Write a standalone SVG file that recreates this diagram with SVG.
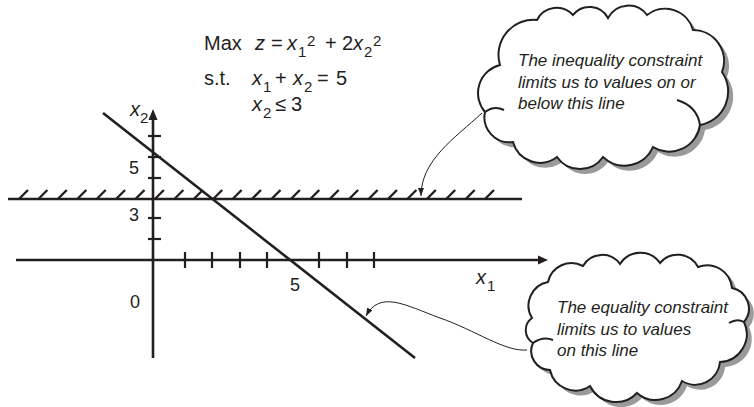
<svg xmlns="http://www.w3.org/2000/svg" width="754" height="407" viewBox="0 0 754 407">
<style>
  .t{font-family:"Liberation Sans",Arial,sans-serif;fill:#231f20}
  .eq{font-size:20px}
  .sm{font-size:15px}
  .it{font-style:italic}
  .num{font-size:18px;text-anchor:middle}
  .ax{stroke:#231f20;stroke-width:2.6;fill:none}
  .tk{stroke:#231f20;stroke-width:2.2;fill:none}
  .hat{stroke:#231f20;stroke-width:2.4;fill:none}
  .cloud{fill:#fff;stroke:#231f20;stroke-width:2}
  .shadow{fill:#9a9a9a;stroke:none}
  .hook{fill:none;stroke:#231f20;stroke-width:2}
  .conn{fill:none;stroke:#231f20;stroke-width:1}
  .ct{font-size:17px;font-style:italic}
</style>
<defs>
  <marker id="ah" markerWidth="8" markerHeight="6" refX="8" refY="3" orient="auto" markerUnits="userSpaceOnUse">
    <path d="M0,0 L8,3 L0,6 z" fill="#231f20"/>
  </marker>
  <path id="c1" d="M500,65 A35,35 0 0 1 537,20 A22,22 0 0 1 573,15 A21,21 0 0 1 608,18 A23,23 0 0 1 647,15 A29,29 0 0 1 693,30 A31,31 0 0 1 722,72 A34,34 0 0 1 700,125 A31,31 0 0 1 653,147 A31,31 0 0 1 603,157 A28,28 0 0 1 557,157 A28,28 0 0 1 513,142 A25,25 0 0 1 485,112 A29,29 0 0 1 500,65 Z"/>
  <path id="c2" d="M532,318 A24,24 0 0 1 548,282 A24,24 0 0 1 583,266 A22,22 0 0 1 620,264 A24,24 0 0 1 660,263 A23,23 0 0 1 698,267 A25,25 0 0 1 732,288 A21,21 0 0 1 744,322 A28,28 0 0 1 720,362 A25,25 0 0 1 682,381 A28,28 0 0 1 637,393 A29,29 0 0 1 590,386 A26,26 0 0 1 550,370 A19,19 0 0 1 533,343 A15,15 0 0 1 532,318 Z"/>
</defs>

<g id="equations">
  <text class="t eq" y="50"><tspan x="204">Max</tspan><tspan x="255" class="it">z</tspan><tspan x="271">=</tspan><tspan x="287" class="it">x</tspan></text>
  <text class="t sm" x="298" y="57">1</text>
  <text class="t sm" x="307" y="46">2</text>
  <text class="t eq" y="50"><tspan x="325">+</tspan><tspan x="342">2</tspan><tspan x="353" class="it">x</tspan></text>
  <text class="t sm" x="364" y="57">2</text>
  <text class="t sm" x="373" y="46">2</text>

  <text class="t eq" y="85"><tspan x="204">s.t.</tspan><tspan x="252" class="it">x</tspan></text>
  <text class="t sm" x="263" y="92">1</text>
  <text class="t eq" y="85"><tspan x="275">+</tspan><tspan x="293" class="it">x</tspan></text>
  <text class="t sm" x="304" y="92">2</text>
  <text class="t eq" y="85"><tspan x="317">=</tspan><tspan x="336">5</tspan></text>

  <text class="t eq it" x="252" y="111">x</text>
  <text class="t sm" x="263" y="118">2</text>
  <text class="t eq" y="111"><tspan x="275">≤</tspan><tspan x="291">3</tspan></text>
</g>

<g id="axes">
  <line class="ax" x1="16" y1="260" x2="540" y2="260"/>
  <path d="M548,260 L538,255.5 L538,264.5 z" fill="#231f20"/>
  <line class="ax" x1="153" y1="358" x2="153" y2="118"/>
  <path d="M153,109 L148.5,120 L157.5,120 z" fill="#231f20"/>
  <g id="x1-ticks">
    <line class="tk" x1="185" y1="252" x2="185" y2="268"/>
    <line class="tk" x1="212" y1="252" x2="212" y2="268"/>
    <line class="tk" x1="240" y1="252" x2="240" y2="268"/>
    <line class="tk" x1="267" y1="252" x2="267" y2="268"/>
    <line class="tk" x1="319" y1="252" x2="319" y2="268"/>
    <line class="tk" x1="347" y1="252" x2="347" y2="268"/>
    <line class="tk" x1="374" y1="252" x2="374" y2="268"/>
  </g>
  <g id="x2-ticks">
    <line class="tk" x1="148" y1="136" x2="161" y2="136"/>
    <line class="tk" x1="148" y1="157" x2="161" y2="157"/>
    <line class="tk" x1="148" y1="178" x2="161" y2="178"/>
    <line class="tk" x1="148" y1="218" x2="161" y2="218"/>
    <line class="tk" x1="148" y1="239" x2="161" y2="239"/>
  </g>
  <text class="t it" style="font-size:20px" x="130" y="116">x</text>
  <text class="t sm" x="140" y="123">2</text>
  <text class="t it" style="font-size:20px" x="476" y="284">x</text>
  <text class="t sm" x="487" y="291">1</text>
  <text class="t num" x="134" y="174">5</text>
  <text class="t num" x="134" y="221">3</text>
  <text class="t num" x="135" y="308">0</text>
  <text class="t num" x="295" y="291">5</text>
</g>

<g id="inequality-line">
  <line class="ax" x1="8" y1="199" x2="522" y2="199"/>
  <path class="hat" d="M19,199 l9,-9 M38.4,199 l9,-9 M57.8,199 l9,-9 M77.3,199 l9,-9 M96.7,199 l9,-9 M116.1,199 l9,-9 M135.5,199 l9,-9 M154.9,199 l9,-9 M174.4,199 l9,-9 M193.8,199 l9,-9 M213.2,199 l9,-9 M232.6,199 l9,-9 M252,199 l9,-9 M271.5,199 l9,-9 M290.9,199 l9,-9 M310.3,199 l9,-9 M329.7,199 l9,-9 M349.1,199 l9,-9 M368.6,199 l9,-9 M388,199 l9,-9 M407.4,199 l9,-9 M426.8,199 l9,-9 M446.2,199 l9,-9 M465.7,199 l9,-9 M485,199 l9,-9"/>
</g>

<g id="equality-line">
  <line class="ax" x1="103" y1="113" x2="415" y2="358"/>
</g>

<g id="cloud-inequality">
  <use href="#c1" class="shadow" transform="translate(5,5)"/>
  <use href="#c1" class="cloud"/>
  <path class="hook" d="M485,112 Q494,105 504,110"/>
  <path class="hook" d="M700,125 Q697,106 677,100"/>
  <text class="t ct" x="518" y="66">The inequality constraint</text>
  <text class="t ct" x="518" y="88">limits us to values on or</text>
  <text class="t ct" x="518" y="109">below this line</text>
</g>

<g id="cloud-equality">
  <use href="#c2" class="shadow" transform="translate(5,5)"/>
  <use href="#c2" class="cloud"/>
  <path class="hook" d="M533,343 Q543,336 553,340"/>
  <path class="hook" d="M744,322 Q737,318 729,323"/>
  <text class="t ct" x="557" y="313">The equality constraint</text>
  <text class="t ct" x="557" y="335">limits us to values</text>
  <text class="t ct" x="557" y="356">on this line</text>
</g>

<g id="connectors">
  <path class="conn" d="M482,113 C455,138 421,160 421,196" marker-end="url(#ah)"/>
  <path class="conn" d="M527,350 C505,352 475,330 440,318 C405,305 380,290 366,316" marker-end="url(#ah)"/>
</g>
</svg>
